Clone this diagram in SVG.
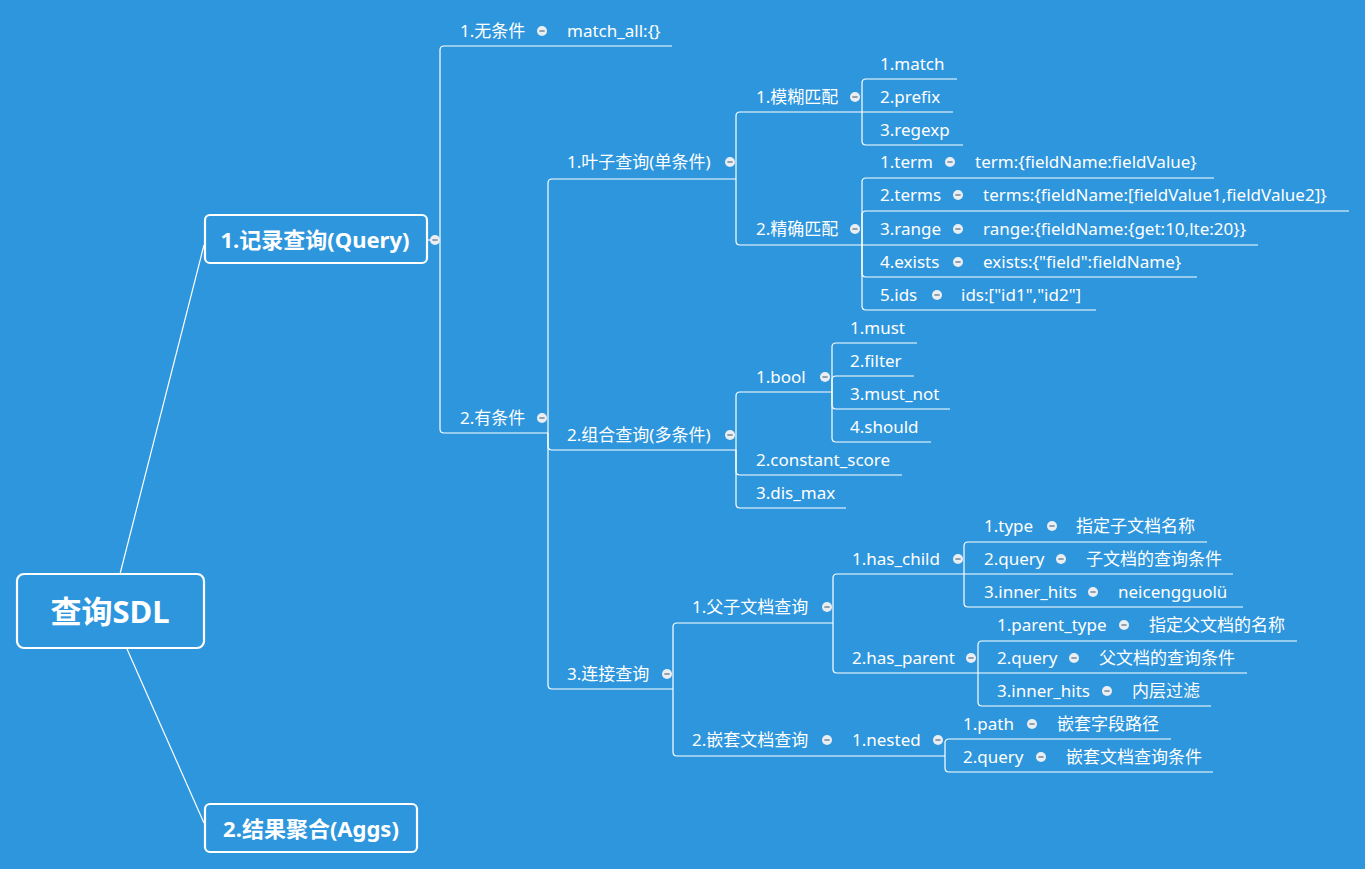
<svg xmlns="http://www.w3.org/2000/svg" xmlns:xlink="http://www.w3.org/1999/xlink" width="1365" height="869" viewBox="0 0 1365 869">
<style>
.t{font-family:"Noto Sans","Noto Sans CJK SC",sans-serif;font-size:17px;fill:#ffffff}
.b{font-family:"Noto Sans","Noto Sans CJK SC",sans-serif;font-weight:bold;fill:#ffffff;text-anchor:middle}
.box{fill:none;stroke:#ffffff;stroke-width:2.2}
.ln{fill:none;stroke:#ffffff;stroke-width:1.2}
</style>
<defs>
<g id="col"><circle r="5" fill="#e9eef3"/><line x1="-2.6" y1="0" x2="2.6" y2="0" stroke="#7d8b99" stroke-width="1.6"/></g>
</defs>
<rect width="1365" height="869" fill="#2e96dd"/>
<g id="connectors" class="ln">
<path d="M120 574 L204 245"/>
<path d="M127 649 L204 823"/>
<path d="M427 240 H440"/>
<path d="M440 240 V50 Q440 46 444 46 H672"/>
<path d="M440 240 V429 Q440 433 444 433 H548"/>
<path d="M548 433 V183 Q548 179 552 179 H736"/>
<path d="M548 433 V446 Q548 450 552 450 H736"/>
<path d="M548 433 V685 Q548 689 552 689 H673"/>
<path d="M736 179 V116 Q736 112 740 112 H862"/>
<path d="M736 179 V241 Q736 245 740 245 H862"/>
<path d="M862 112 V83 Q862 79 866 79 H957"/>
<path d="M862 112 H953"/>
<path d="M862 112 V141 Q862 145 866 145 H963"/>
<path d="M862 245 V182 Q862 178 866 178 H1214"/>
<path d="M862 245 V215 Q862 211 866 211 H1349"/>
<path d="M862 245 H1258"/>
<path d="M862 245 V273 Q862 277 866 277 H1197"/>
<path d="M862 245 V306 Q862 310 866 310 H1096"/>
<path d="M736 450 V396 Q736 392 740 392 H832"/>
<path d="M736 450 V471 Q736 475 740 475 H902"/>
<path d="M736 450 V504 Q736 508 740 508 H846"/>
<path d="M832 392 V347 Q832 343 836 343 H917"/>
<path d="M832 392 V380 Q832 376 836 376 H914"/>
<path d="M832 392 V405 Q832 409 836 409 H950"/>
<path d="M832 392 V438 Q832 442 836 442 H931"/>
<path d="M673 689 V627 Q673 623 677 623 H833"/>
<path d="M673 689 V752 Q673 756 677 756 H945"/>
<path d="M833 623 V578 Q833 574 837 574 H964"/>
<path d="M833 623 V669 Q833 673 837 673 H978"/>
<path d="M964 574 V546 Q964 542 968 542 H1207"/>
<path d="M964 574 H1233"/>
<path d="M964 574 V603 Q964 607 968 607 H1243"/>
<path d="M978 673 V645 Q978 641 982 641 H1297"/>
<path d="M978 673 H1247"/>
<path d="M978 673 V702 Q978 706 982 706 H1211"/>
<path d="M945 756 V743 Q945 739 949 739 H1171"/>
<path d="M945 756 V768 Q945 772 949 772 H1213"/>
</g>
<g id="root"><rect class="box" x="17" y="574" width="187" height="74" rx="7"/><text class="b" x="110" y="623" font-size="31">查询SDL</text></g>
<g id="query"><rect class="box" x="205" y="215" width="222" height="48" rx="5"/><text class="b" x="315" y="248" font-size="22">1.记录查询(Query)</text><use xlink:href="#col" x="435" y="240"/></g>
<g id="aggs"><rect class="box" x="205" y="804" width="212" height="48" rx="5"/><text class="b" x="311" y="837" font-size="22">2.结果聚合(Aggs)</text></g>
<g id="n-nocond"><text class="t" x="460" y="37">1.无条件</text><use xlink:href="#col" x="542" y="31"/><text class="t" x="567" y="37">match_all:{}</text></g>
<g id="n-cond"><text class="t" x="460" y="424">2.有条件</text><use xlink:href="#col" x="542" y="418"/></g>
<g id="n-leaf"><text class="t" x="567" y="168">1.叶子查询(单条件)</text><use xlink:href="#col" x="730" y="162"/></g>
<g id="n-fuzzy"><text class="t" x="756" y="103">1.模糊匹配</text><use xlink:href="#col" x="855" y="97"/></g>
<g id="n-match"><text class="t" x="880" y="70">1.match</text></g>
<g id="n-prefix"><text class="t" x="880" y="103">2.prefix</text></g>
<g id="n-regexp"><text class="t" x="880" y="136">3.regexp</text></g>
<g id="n-exact"><text class="t" x="756" y="235">2.精确匹配</text><use xlink:href="#col" x="855" y="229"/></g>
<g id="n-term"><text class="t" x="880" y="168">1.term</text><use xlink:href="#col" x="950" y="162"/><text class="t" x="975" y="168">term:{fieldName:fieldValue}</text></g>
<g id="n-terms"><text class="t" x="880" y="201">2.terms</text><use xlink:href="#col" x="958" y="195"/><text class="t" x="983" y="201">terms:{fieldName:[fieldValue1,fieldValue2]}</text></g>
<g id="n-range"><text class="t" x="880" y="235">3.range</text><use xlink:href="#col" x="958" y="229"/><text class="t" x="983" y="235">range:{fieldName:{get:10,lte:20}}</text></g>
<g id="n-exists"><text class="t" x="880" y="268">4.exists</text><use xlink:href="#col" x="958" y="262"/><text class="t" x="983" y="268">exists:{"field":fieldName}</text></g>
<g id="n-ids"><text class="t" x="880" y="301">5.ids</text><use xlink:href="#col" x="937" y="295"/><text class="t" x="961" y="301">ids:["id1","id2"]</text></g>
<g id="n-compound"><text class="t" x="567" y="441">2.组合查询(多条件)</text><use xlink:href="#col" x="730" y="435"/></g>
<g id="n-bool"><text class="t" x="756" y="383">1.bool</text><use xlink:href="#col" x="825" y="377"/></g>
<g id="n-must"><text class="t" x="850" y="334">1.must</text></g>
<g id="n-filter"><text class="t" x="850" y="367">2.filter</text></g>
<g id="n-mustnot"><text class="t" x="850" y="400">3.must_not</text></g>
<g id="n-should"><text class="t" x="850" y="433">4.should</text></g>
<g id="n-cscore"><text class="t" x="756" y="466">2.constant_score</text></g>
<g id="n-dismax"><text class="t" x="756" y="499">3.dis_max</text></g>
<g id="n-join"><text class="t" x="567" y="680">3.连接查询</text><use xlink:href="#col" x="667" y="674"/></g>
<g id="n-parentchild"><text class="t" x="692" y="613">1.父子文档查询</text><use xlink:href="#col" x="827" y="607"/></g>
<g id="n-haschild"><text class="t" x="852" y="565">1.has_child</text><use xlink:href="#col" x="958" y="559"/></g>
<g id="n-type"><text class="t" x="984" y="532">1.type</text><use xlink:href="#col" x="1052" y="526"/><text class="t" x="1076" y="532">指定子文档名称</text></g>
<g id="n-cquery"><text class="t" x="984" y="565">2.query</text><use xlink:href="#col" x="1061" y="559"/><text class="t" x="1086" y="565">子文档的查询条件</text></g>
<g id="n-cinner"><text class="t" x="984" y="598">3.inner_hits</text><use xlink:href="#col" x="1093" y="592"/><text class="t" x="1118" y="598">neicengguolü</text></g>
<g id="n-hasparent"><text class="t" x="852" y="664">2.has_parent</text><use xlink:href="#col" x="971" y="658"/></g>
<g id="n-ptype"><text class="t" x="997" y="631">1.parent_type</text><use xlink:href="#col" x="1124" y="625"/><text class="t" x="1149" y="631">指定父文档的名称</text></g>
<g id="n-pquery"><text class="t" x="997" y="664">2.query</text><use xlink:href="#col" x="1074" y="658"/><text class="t" x="1099" y="664">父文档的查询条件</text></g>
<g id="n-pinner"><text class="t" x="997" y="697">3.inner_hits</text><use xlink:href="#col" x="1107" y="691"/><text class="t" x="1132" y="697">内层过滤</text></g>
<g id="n-nestdoc"><text class="t" x="692" y="746">2.嵌套文档查询</text><use xlink:href="#col" x="827" y="740"/></g>
<g id="n-nested"><text class="t" x="852" y="746">1.nested</text><use xlink:href="#col" x="938" y="740"/></g>
<g id="n-path"><text class="t" x="963" y="730">1.path</text><use xlink:href="#col" x="1032" y="724"/><text class="t" x="1057" y="730">嵌套字段路径</text></g>
<g id="n-nquery"><text class="t" x="963" y="763">2.query</text><use xlink:href="#col" x="1041" y="757"/><text class="t" x="1066" y="763">嵌套文档查询条件</text></g>
</svg>
